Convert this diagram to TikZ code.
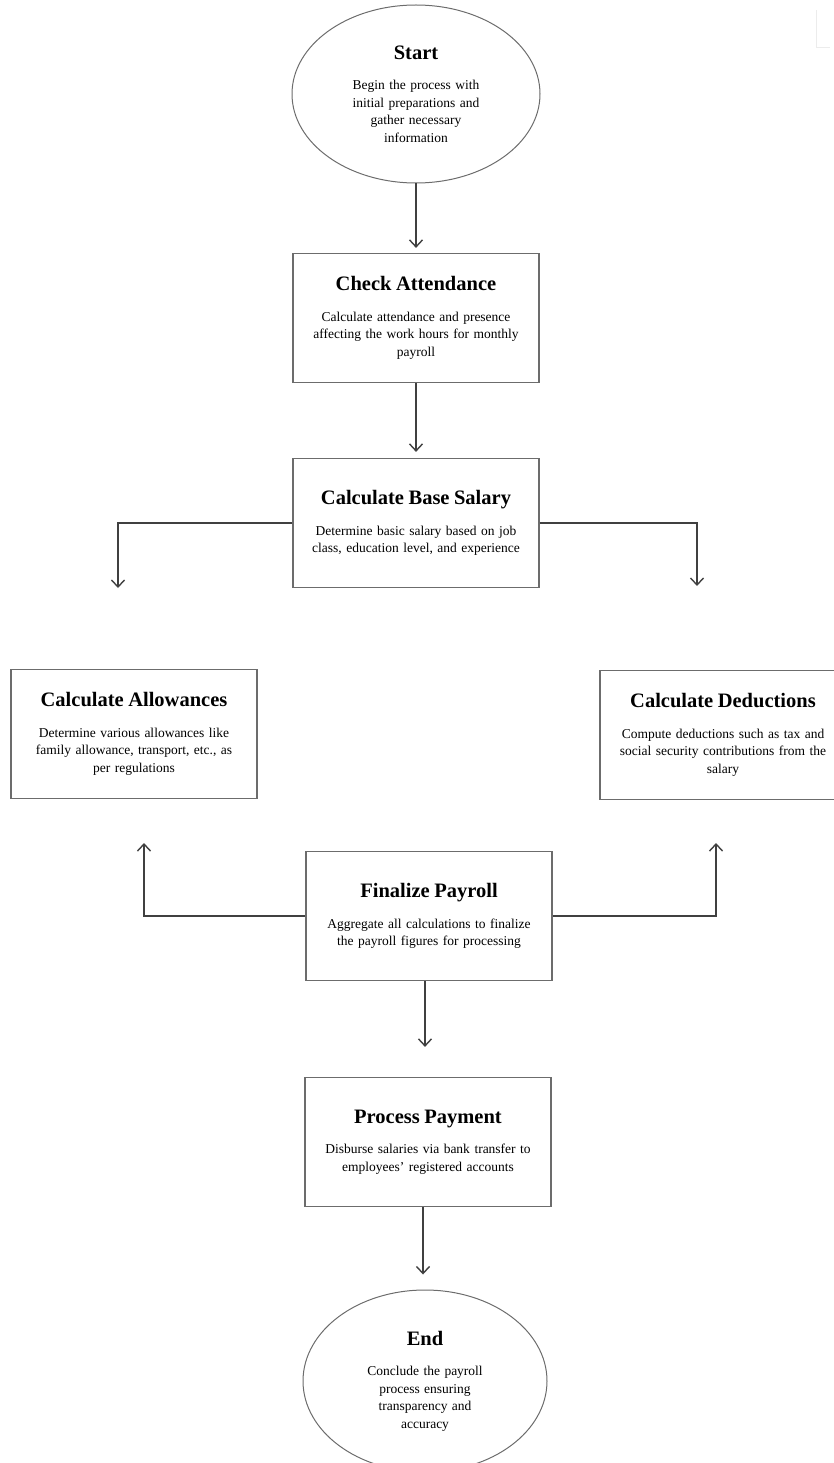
\documentclass[tikz,border=0pt]{standalone}
\usepackage{fontspec}
\setmainfont{Liberation Serif}
\usetikzlibrary{shapes.geometric,arrows.meta}

\newcommand{\stepname}[1]{{\fontsize{20.5}{24}\selectfont\bfseries #1}\\[13pt]}

\begin{document}
\begin{tikzpicture}[x=1pt, y=-1pt,
        box/.style={draw=gray!85!black, line width=1.2pt, rectangle, minimum width=246pt, minimum height=129pt, inner sep=4pt, text width=232pt, align=center, font=\fontsize{13.5}{17.5}\selectfont},
        oval/.style={draw=gray!85!black, line width=1pt, ellipse, inner sep=0pt, text width=150pt, align=center, font=\fontsize{13.5}{17.5}\selectfont},
        link/.style={draw=gray!50!black, line width=1.4pt, -{Straight Barb[length=7pt,width=13pt]}}]
        \useasboundingbox (0,0) rectangle (834,1463);
        \clip (0,0) rectangle (834,1463);

        \node[oval, minimum width=248pt, minimum height=178pt] (start) at (416,94) {\stepname{Start}Begin the process with\\ initial preparations and\\ gather necessary\\ information};

        \node[box] (attend) at (416,318) {\stepname{Check Attendance}Calculate attendance and presence\\ affecting the work hours for monthly\\ payroll};
        \node[box] (base) at (416,523) {\stepname{Calculate Base Salary}Determine basic salary based on job\\ class, education level, and experience};

        \node[box] (allow) at (134,734) {\stepname{Calculate Allowances}Determine various allowances like\\ family allowance, transport, etc., as\\ per regulations};
        \node[box] (deduct) at (723,735) {\stepname{Calculate Deductions}Compute deductions such as tax and\\ social security contributions from the\\ salary};

        \node[box] (final) at (429,916) {\stepname{Finalize Payroll}Aggregate all calculations to finalize\\ the payroll figures for processing};
        \node[box] (pay) at (428,1142) {\stepname{Process Payment}Disburse salaries via bank transfer to\\ employees' registered accounts};

        \node[oval, minimum width=244pt, minimum height=182pt] (end) at (425,1381) {\stepname{End}Conclude the payroll\\ process ensuring\\ transparency and\\ accuracy};

        \coordinate (allowin) at (118,588);
        \coordinate (deductin) at (697,586);
        \coordinate (allowup) at (144,843);
        \coordinate (deductup) at (716,843);

        \draw[link, shorten >=5pt] (start.south) -- (attend.north);
        \draw[link, shorten >=6pt] (attend.south) -- (base.north);
        \draw[link] (base.west) -| (allowin);
        \draw[link] (base.east) -| (deductin);
        \draw[link] (final.west) -| (allowup);
        \draw[link] (final.east) -| (deductup);
        \draw[link, shorten >=30pt] (final.south -| 425,0) -- (pay.north -| 425,0);
        \draw[link, shorten >=15pt] (pay.south -| 423,0) -- (end.north -| 423,0);

        \draw[gray!15, line width=0.8pt] (816,10) -- (816,47) -- (830,47);
    \end{tikzpicture}
\end{document}
